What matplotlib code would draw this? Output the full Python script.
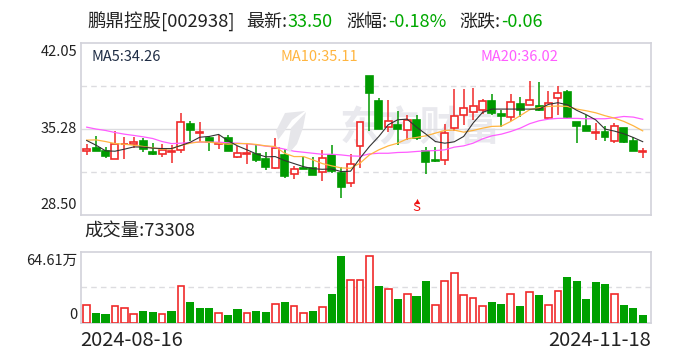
import matplotlib
matplotlib.use('Agg')
import matplotlib.pyplot as plt
from matplotlib.patches import PathPatch
from matplotlib.path import Path
import numpy as np

plt.rcParams['font.family'] = ['Noto Sans CJK SC', 'DejaVu Sans']

opens = [33.49,33.80,33.54,32.93,34.06,34.06,34.33,33.46,33.28,33.41,33.59,35.67,34.98,34.56,34.11,34.56,33.09,33.30,33.33,32.91,
         32.22,33.22,31.70,32.20,32.22,31.86,33.20,31.80,30.99,33.91,39.45,37.48,35.40,35.59,35.14,35.98,33.51,32.83,32.80,35.32,
         36.32,36.56,36.72,37.48,36.43,36.19,37.22,37.14,37.09,36.11,37.66,38.19,35.82,35.51,34.96,35.03,34.30,35.35,34.33,33.41]
closes = [33.67,33.49,33.17,34.09,34.11,34.22,33.67,33.33,33.59,33.51,35.80,35.14,35.03,34.27,34.17,33.56,33.35,33.35,32.85,32.30,
          33.77,31.59,32.09,32.14,31.65,32.96,31.96,30.73,32.49,35.80,38.06,35.22,35.85,35.22,35.98,34.51,32.70,32.78,34.93,36.27,
          36.90,37.06,37.45,36.48,36.30,37.37,36.72,37.53,36.72,37.30,38.08,36.22,35.51,35.11,35.01,34.59,35.48,34.27,33.56,33.49]
highs = [34.09,34.72,33.88,35.11,34.59,34.61,34.56,34.17,34.09,33.98,36.53,35.90,35.82,34.72,34.80,34.80,33.93,34.14,33.98,33.41,
         34.56,33.72,32.36,33.12,33.04,33.59,33.98,32.28,33.28,35.80,39.45,37.72,37.56,36.64,36.38,36.38,33.83,33.83,35.67,38.42,
         38.42,38.50,37.61,38.03,36.77,38.03,37.79,39.03,38.98,38.27,38.63,38.35,35.82,36.38,35.75,35.51,35.75,35.35,34.59,33.77]
lows = [33.25,33.49,33.01,32.88,32.93,33.75,33.41,33.25,33.09,32.62,33.38,34.33,34.22,33.49,33.72,33.56,33.01,32.54,32.64,32.07,
        32.14,31.44,31.36,32.09,31.65,31.20,31.80,29.86,30.70,32.17,35.06,35.22,35.01,33.98,34.41,34.43,31.73,32.70,32.46,35.06,
        35.59,35.98,36.45,36.32,35.40,35.90,36.19,37.14,36.64,36.06,36.38,36.14,34.12,35.06,34.41,34.33,34.19,34.12,33.54,33.01]

ma5 = [34.35,33.98,33.54,33.51,33.67,33.85,33.83,33.75,33.72,33.72,33.96,34.22,34.61,34.67,34.83,34.33,33.93,33.62,33.30,33.07,
       33.09,32.78,32.54,32.30,32.14,32.09,32.12,31.91,31.94,32.96,33.88,34.67,35.59,35.98,36.03,35.40,34.85,34.27,34.14,34.25,
       34.67,35.72,36.56,36.82,36.82,36.82,36.82,36.82,36.82,37.19,37.32,37.16,36.72,36.38,35.98,35.25,35.09,34.88,34.59,34.26]
ma10 = [34.38,34.40,34.27,34.11,34.06,33.98,33.88,33.77,33.67,33.70,33.96,34.14,34.25,34.22,34.14,34.06,34.11,34.11,34.04,33.93,
        33.88,33.35,33.09,33.09,32.83,32.54,32.36,32.20,32.17,32.57,33.22,33.62,33.93,34.14,34.48,34.59,34.72,34.93,35.14,35.17,
        35.01,35.14,35.32,35.46,35.48,35.85,36.30,36.77,36.93,37.03,37.06,37.03,36.82,36.69,36.53,36.30,36.11,35.85,35.51,35.11]
ma20 = [35.40,35.25,35.14,34.98,34.85,34.75,34.64,34.51,34.27,34.11,34.14,34.20,34.22,34.22,34.22,34.17,34.14,34.09,34.01,33.91,
        33.83,33.67,33.51,33.43,33.35,33.27,33.27,33.22,33.14,33.12,33.30,33.35,33.35,33.41,33.43,33.49,33.54,33.56,33.62,33.83,
        33.93,34.14,34.48,34.72,34.85,35.06,35.32,35.67,35.90,36.03,36.09,36.09,36.09,36.06,36.06,36.06,36.14,36.24,36.19,36.02]

# volume in 万 shares, colours differ from candles in a few places
volumes = [16.8,9.4,8.4,15.8,13.9,8.1,11.3,10.3,8.1,11.3,36.2,20.0,14.2,14.2,9.0,7.4,13.2,9.0,11.3,10.3,
           17.8,20.0,15.8,9.0,11.3,14.9,27.8,64.61,42.0,42.0,64.61,35.5,32.6,22.9,27.5,25.8,40.4,16.8,40.1,48.8,
           26.5,23.6,15.8,20.0,18.1,27.5,16.2,29.4,26.8,16.8,30.4,44.3,40.4,22.9,39.4,37.5,28.4,17.1,14.2,7.33]
vol_up = 'rggrrrggrgrgggrggrggrgrrgrggrrrgrgrggrrrrrrggrgrgrrgggggrggg'

RED = '#f02a2a'
GREEN = '#009a00'
VOL_GREEN = '#00a000'
GRID = '#dcdce0'
BORDER = '#d2d2da'

W, H = 688, 360
fig = plt.figure(figsize=(6.88, 3.6), dpi=100)


def rect(left, top, right, bottom):
    return [left / W, 1 - bottom / H, (right - left) / W, (bottom - top) / H]


def px_text(x, y, s, **kw):
    kw.setdefault('va', 'center')
    fig.text(x / W, 1 - y / H, s, **kw)


ax = fig.add_axes(rect(81, 42.5, 651, 215))
vax = fig.add_axes(rect(81, 251.7, 651, 323))
x = np.arange(len(opens))

for a in (ax, vax):
    a.set_xlim(-0.605, 59.88)
    a.set_xticks([])
    a.set_yticks([])
    for s in a.spines.values():
        s.set_color(BORDER)
        s.set_linewidth(1.2)

ax.set_ylim(28.5, 42.05)
vax.set_ylim(-0.3, 69.1)

# grid
ax.axhline(35.28, color=GRID, lw=1, zorder=1)
for p in (38.66, 31.89):
    ax.axhline(p, color=GRID, lw=1, ls=(0, (4, 3)), zorder=1)
vax.axhline(34.5, color=GRID, lw=1, ls=(0, (4, 3)), zorder=1)

# watermark
ax.text(0.595, 0.50, '东方财富', transform=ax.transAxes, ha='center', va='center',
        fontsize=29, fontweight='bold', color='#e9e9ee', zorder=0)
for pts in ([(276, 131), (285, 113), (305, 111), (292, 120), (284, 132), (278, 140)],
            [(287, 150), (291, 128), (306, 112), (303, 128), (297, 144), (290, 152)]):
    verts = [(px / W, 1 - py / H) for px, py in pts] + [(pts[0][0] / W, 1 - pts[0][1] / H)]
    codes = [Path.MOVETO] + [Path.LINETO] * (len(pts) - 1) + [Path.CLOSEPOLY]
    fig.add_artist(PathPatch(Path(verts, codes), fc='#e6e6ea', ec='none', zorder=0.5))
ax.patch.set_alpha(0)
vax.patch.set_alpha(0)

# candles
for i in x:
    up = closes[i] >= opens[i]
    c = RED if up else GREEN
    ax.vlines(i, lows[i], highs[i], color=c, lw=1.1, zorder=2)
    lo = min(opens[i], closes[i])
    hi = max(opens[i], closes[i])
    ax.bar(i, hi - lo, bottom=lo, width=0.74, color='white' if up else c,
           edgecolor=c, linewidth=1.2, zorder=3)

# moving averages
ax.plot(x, ma20, color='#ff5cff', lw=0.9, zorder=4)
ax.plot(x, ma10, color='#ffb540', lw=0.9, zorder=4)
ax.plot(x, ma5, color='#333333', lw=0.8, zorder=4)

# volume
for i in x:
    if vol_up[i] == 'r':
        vax.bar(i, volumes[i], width=0.72, color='white', edgecolor=RED, linewidth=1.2, zorder=3)
    else:
        vax.bar(i, volumes[i], width=0.86, color=VOL_GREEN, zorder=3)

# sell flag
ax.scatter([35], [29.62], marker='^', s=14, color='#ee1111', zorder=5, linewidths=0)
ax.text(35, 29.05, 'S', color='#ee1111', fontsize=9.5, ha='center', va='center', zorder=5)

# header
px_text(87, 22, '鹏鼎控股[002938]', fontsize=13.3, color='#222222')
px_text(246, 22, '最新:', fontsize=13, color='#222222')
px_text(287, 22, '33.50', fontsize=13, color='#00a800')
px_text(346, 22, '涨幅:', fontsize=13, color='#222222')
px_text(388, 22, '-0.18%', fontsize=13, color='#00a800')
px_text(459, 22, '涨跌:', fontsize=13, color='#222222')
px_text(501, 22, '-0.06', fontsize=13, color='#00a800')

px_text(91, 57, 'MA5:34.26', fontsize=10.5, color='#1f2d45')
px_text(280, 57, 'MA10:35.11', fontsize=10.5, color='#ffb540')
px_text(480, 57, 'MA20:36.02', fontsize=10.5, color='#ff5cff')

px_text(77, 52, '42.05', fontsize=10.5, ha='right', color='#222222')
px_text(77, 129, '35.28', fontsize=10.5, ha='right', color='#222222')
px_text(77, 205, '28.50', fontsize=10.5, ha='right', color='#222222')
px_text(84, 232, '成交量:73308', fontsize=13.2, color='#222222')
px_text(77, 261, '64.61万', fontsize=10.5, ha='right', color='#222222')
px_text(77, 315, '0', fontsize=10.5, ha='right', color='#222222')
px_text(80, 341, '2024-08-16', fontsize=14.5, color='#222222')
px_text(651, 341, '2024-11-18', fontsize=14.5, ha='right', color='#222222')

fig.savefig('out.png', dpi=100)
